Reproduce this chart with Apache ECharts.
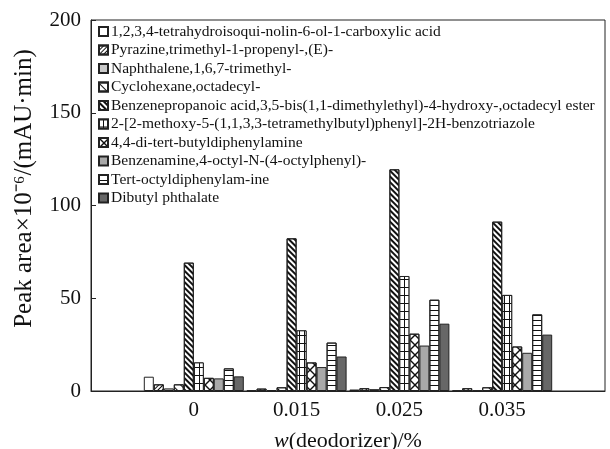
<!DOCTYPE html>
<html><head><meta charset="utf-8">
<script src="https://cdn.jsdelivr.net/npm/echarts@6/dist/echarts.min.js"></script>
<style>html,body{margin:0;padding:0;background:#fff}#c{width:610px;height:449px}</style>
</head><body><div id="c"></div>
<script>
// ---- data ----
const categories = ['0', '0.015', '0.025', '0.035'];
const seriesNames = [
  '1,2,3,4-tetrahydroisoqui-nolin-6-ol-1-carboxylic acid',
  'Pyrazine,trimethyl-1-propenyl-,(E)-',
  'Naphthalene,1,6,7-trimethyl-',
  'Cyclohexane,octadecyl-',
  'Benzenepropanoic acid,3,5-bis(1,1-dimethylethyl)-4-hydroxy-,octadecyl ester',
  '2-[2-methoxy-5-(1,1,3,3-tetramethylbutyl)phenyl]-2H-benzotriazole',
  '4,4-di-tert-butyldiphenylamine',
  'Benzenamine,4-octyl-N-(4-octylphenyl)-',
  'Tert-octyldiphenylam-ine',
  'Dibutyl phthalate'
];
const tetrahydroisoquinoline = [7.7, 0.3, 0.8, 0.3];
const pyrazine = [3.6, 1.3, 1.5, 1.5];
const naphthalene = [1.4, 0.5, 1.0, 0.3];
const cyclohexane = [3.6, 2.0, 2.1, 2.0];
const benzenepropanoic = [69.2, 82.3, 119.5, 91.3];
const benzotriazole = [15.4, 32.7, 62.0, 51.8];
const diTertButyl = [7.1, 15.4, 30.9, 24.0];
const benzenamine = [6.8, 12.9, 24.5, 20.6];
const tertOctyl = [12.2, 26.1, 49.2, 41.3];
const dibutylPhthalate = [7.9, 18.6, 36.3, 30.4];
const yTicks = [0, 50, 100, 150, 200];

const allValues = [tetrahydroisoquinoline, pyrazine, naphthalene, cyclohexane, benzenepropanoic,
  benzotriazole, diTertButyl, benzenamine, tertOctyl, dibutylPhthalate];

// ---- styles ----
const X_PATH = 'path://M0,0L1,0L5,4L9,0L10,0L10,1L6,5L10,9L10,10L9,10L5,6L1,10L0,10L0,9L4,5L0,1Z';
const styles = [
  { color: '#fff' },
  { color: '#fff', decal: { symbol: 'rect', symbolSize: 1, dashArrayX: [1, 0], dashArrayY: [1, 2], rotation: -Math.PI / 4, color: '#111' } },
  { color: '#c8c8c8' },
  { color: '#fff', decal: { symbol: 'rect', symbolSize: 1, dashArrayX: [1, 0], dashArrayY: [1, 5], rotation: Math.PI / 4, color: '#111' } },
  { color: '#fff', decal: { symbol: 'rect', symbolSize: 1, dashArrayX: [1, 0], dashArrayY: [1.2, 2], rotation: Math.PI / 4, color: '#111' } },
  { color: '#111', decal: { symbol: 'rect', symbolSize: 1, dashArrayX: [4, 1], dashArrayY: [7, 1], rotation: 0, color: '#fff' } },
  { color: '#fff', decal: { symbol: X_PATH, symbolSize: 1, symbolKeepAspect: false, dashArrayX: [10, 0], dashArrayY: [10, 0], rotation: 0, color: '#111' } },
  { color: '#a9a9a9' },
  { color: '#fff', decal: { symbol: 'rect', symbolSize: 1, dashArrayX: [1, 0], dashArrayY: [1, 4], rotation: 0, color: '#111' } },
  { color: '#676767' }
];

const xCats = [''].concat(categories, ['']);
const series = seriesNames.map((name, i) => ({
  name: name,
  type: 'bar',
  barWidth: 10,
  barGap: '0%',
  data: [null].concat(allValues[i], [null]),
  itemStyle: Object.assign({ borderColor: '#222', borderWidth: 1 }, styles[i]),
  emphasis: { disabled: true },
  animation: false
}));

const serif = 'Liberation Serif, Times New Roman, serif';
const chart = echarts.init(document.getElementById('c'), null, { renderer: 'canvas' });
chart.setOption({
  animation: false,
  backgroundColor: '#fff',
  grid: { left: 91, right: 5, top: 20, bottom: 58, containLabel: false, outerBoundsMode: 'none',
    show: true, borderColor: '#222', borderWidth: 1, backgroundColor: 'transparent' },
  legend: {
    orient: 'vertical', left: 98, top: 23.5, padding: 0,
    itemWidth: 9, itemHeight: 9, itemGap: 2.5,
    icon: 'rect',
    textStyle: { fontFamily: serif, fontSize: 15.5, color: '#111', lineHeight: 15, padding: [0, 0, 0, -2] },
    data: seriesNames
  },
  xAxis: {
    type: 'category',
    data: xCats,
    boundaryGap: false,
    axisLine: { lineStyle: { color: '#222' } },
    axisTick: { show: false },
    axisLabel: { fontFamily: serif, fontSize: 21, color: '#111', margin: 9, interval: 0 },
    name: '{i|w}(deodorizer)/%',
    nameLocation: 'middle',
    nameGap: 39,
    nameTextStyle: { fontFamily: serif, fontSize: 22, color: '#111', rich: { i: { fontFamily: serif, fontSize: 22, fontStyle: 'italic', color: '#111' } } }
  },
  yAxis: {
    type: 'value',
    min: yTicks[0], max: yTicks[yTicks.length - 1], interval: 50,
    axisLine: { show: true, lineStyle: { color: '#222' } },
    axisTick: { show: true, inside: true, length: 5, lineStyle: { color: '#222' } },
    splitLine: { show: false },
    axisLabel: { fontFamily: serif, fontSize: 21, color: '#111', margin: 10 },
    name: 'Peak area×10⁻⁶/(mAU·min)',
    nameLocation: 'middle',
    nameGap: 54,
    nameTextStyle: { fontFamily: serif, fontSize: 25, color: '#111', padding: [0, 0, 0, 34] }
  },
  series: series
});
</script>
</body></html>
